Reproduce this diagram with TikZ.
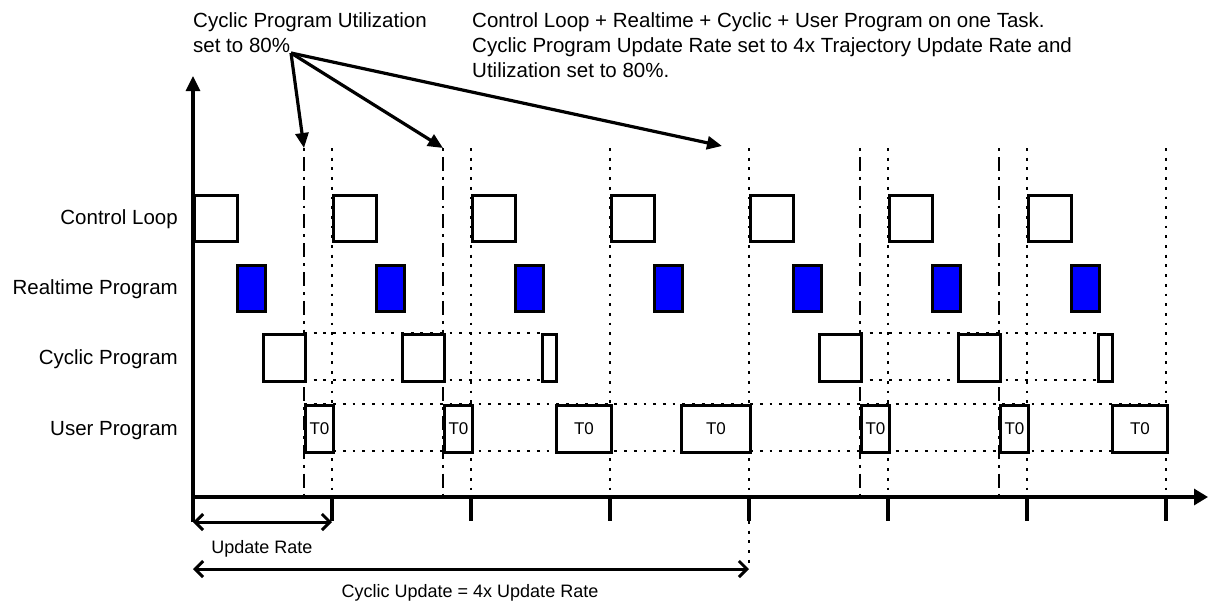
\documentclass[tikz,border=0pt]{standalone}
\usepackage{fontspec}
\setmainfont{Liberation Sans}
\usetikzlibrary{arrows.meta}
\definecolor{rtblue}{RGB}{0,0,255}
\begin{document}
\begin{tikzpicture}[x=1pt,y=-1pt,
  bigtxt/.style={font=\fontsize{20.5}{25}\selectfont, inner sep=0pt},
  smalltxt/.style={font=\fontsize{18}{22}\selectfont, inner sep=0pt},
  tztxt/.style={font=\fontsize{17}{20}\selectfont},
  axisline/.style={line width=3.2pt},
  boxst/.style={draw, line width=3pt, fill=white, inner sep=0pt, anchor=north west},
  rtbox/.style={boxst, fill=rtblue, minimum width=28pt, minimum height=46pt},
  clbox/.style={boxst, minimum width=43pt, minimum height=46pt},
  cybox/.style={boxst, minimum height=47pt},
  usbox/.style={boxst, minimum height=47pt, tztxt},
  dotline/.style={line width=2.8pt, dash pattern=on 2.8pt off 6.9pt},
  dashdotline/.style={line width=2.8pt, dash pattern=on 2.8pt off 6pt on 14pt off 6pt},
  callout/.style={line width=3.2pt, -{Triangle[length=15pt,width=13pt]}},
  spanarrow/.style={line width=3pt, {Straight Barb[length=8pt,width=16pt]}-{Straight Barb[length=8pt,width=16pt]}},
]
\useasboundingbox (0,0) rectangle (1210,603);

% tick coordinates on the time axis
\foreach \i in {0,...,7} \coordinate (t\i) at ({193+139*\i},497);

% vertical dotted update lines
\foreach \i in {1,...,7} \draw[dotline] ({193+139*\i},148) -- (t\i);
% dash-dot cyclic program lines
\foreach \x/\n in {304/a,443/b,860/c,999/d} {
  \coordinate (dd\n) at (\x,148);
  \draw[dashdotline] (dd\n) -- (\x,497);
}

% horizontal dotted guides
\draw[dotline] (304,333) -- (541,333);
\draw[dotline] (304,380) -- (541,380);
\draw[dotline] (860,333) -- (1097,333);
\draw[dotline] (860,380) -- (1097,380);
\draw[dotline] (304,404) -- (1166,404);
\draw[dotline] (304,451) -- (1166,451);

% ticks below the axis
\foreach \i in {1,...,7} \draw[axisline] (t\i) -- ++(0,24);
\draw[dotline] (749,521) -- (749,569);

% axes
\draw[axisline, -{Triangle[length=15pt,width=14pt]}] (193,522) -- (193,76);
\draw[axisline, -{Triangle[length=14pt,width=16pt]}] (t0) -- (1208,497);

% control loop boxes
\foreach \i in {0,...,6} \node[clbox] (cl\i) at ({193+139*\i},194) {};
% realtime program boxes
\foreach \i in {0,...,6} \node[rtbox] (rt\i) at ({236+139*\i},264) {};
% cyclic program boxes
\foreach \x/\w/\n in {262/42/0,401/42/1,541/14/2,818/42/4,957/42/5,1097/14/6}
  \node[cybox, minimum width=\w pt] (cy\n) at (\x,333) {};
% user program boxes
\foreach \x/\w/\n in {304/28/0,443/28/1,555/55/2,680/69/3,860/28/4,999/28/5,1111/55/6}
  \node[usbox, minimum width=\w pt] (us\n) at (\x,404) {T0};

% row labels
\node[bigtxt, anchor=base east] (lcl) at (178,224) {Control Loop};
\node[bigtxt, anchor=base east] (lrt) at (178,294) {Realtime Program};
\node[bigtxt, anchor=base east] (lcy) at (178,364) {Cyclic Program};
\node[bigtxt, anchor=base east] (lus) at (178,435) {User Program};

% notes
\node[bigtxt, align=left, anchor=north west] (note1) at (193,12) {Cyclic Program Utilization\\set to 80\%};
\node[bigtxt, align=left, anchor=north west] (note2) at (472,12) {Control Loop + Realtime + Cyclic + User Program on one Task.\\Cyclic Program Update Rate set to 4x Trajectory Update Rate and\\Utilization set to 80\%.};

% callouts
\coordinate (src) at (291,53);
\coordinate (free) at (722,146);
\draw[callout] (src) -- (dda);
\draw[callout] (src) -- (ddb);
\draw[callout] (src) -- (free);

% span arrows
\draw[spanarrow] (193,522) -- (332,522);
\draw[spanarrow] (193,569) -- (749,569);
\node[smalltxt, anchor=base] (lur) at (262,553) {Update Rate};
\node[smalltxt, anchor=base] (lcu) at (470,597) {Cyclic Update = 4x Update Rate};
\end{tikzpicture}
\end{document}
